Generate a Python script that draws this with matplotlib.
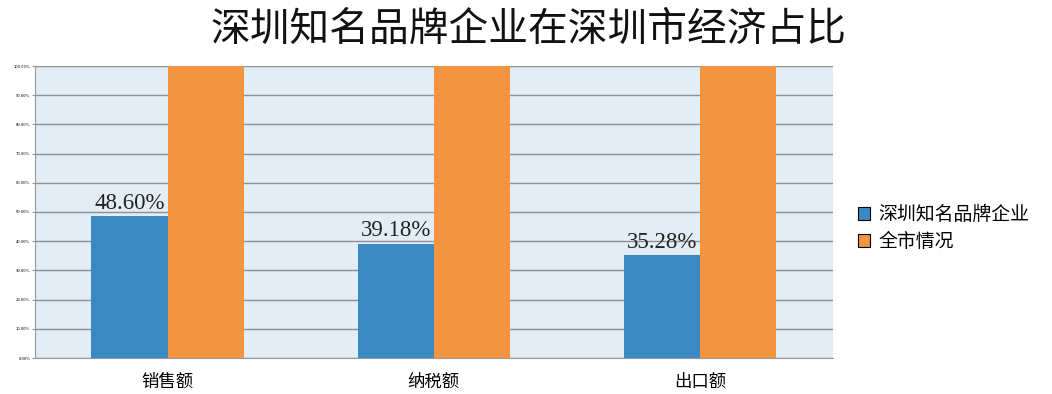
import matplotlib
matplotlib.use("Agg")
import matplotlib.pyplot as plt
import numpy as np
from matplotlib.ticker import FuncFormatter

categories = ["销售额", "纳税额", "出口额"]
brand_values = [48.60, 39.18, 35.28]
city_values = [100.0, 100.0, 100.0]
series_names = ["深圳知名品牌企业", "全市情况"]
title = "深圳知名品牌企业在深圳市经济占比"

plt.rcParams['font.family'] = ['Noto Sans CJK SC', 'DejaVu Sans']

fig = plt.figure(figsize=(10.52, 3.94), dpi=100)
ax = fig.add_axes([34.5/1052, 1 - 358/394, (833-34.5)/1052, (358-66)/394])

x = np.arange(len(categories))
w = 0.286
blue = "#3a89c3"
orange = "#f29441"
ax.bar(x - w/2, brand_values, w, color=blue, label=series_names[0], zorder=3)
ax.bar(x + w/2, city_values, w, color=orange, label=series_names[1], zorder=3)

for xi, v in zip(x, brand_values):
    ax.text(xi - w/2, v + 0.8, f"{v:.2f}%", ha="center", va="bottom",
            fontsize=16.5, family=['Liberation Serif', 'DejaVu Serif'], color="#222222", zorder=4)

ax.set_xlim(-0.5, 2.5)
ax.set_ylim(0, 100)
ax.set_yticks(np.arange(0, 101, 10))
ax.yaxis.set_major_formatter(FuncFormatter(lambda v, p: f"{v:.2f}%"))
ax.tick_params(axis='y', labelsize=3, length=2, color="#999999", pad=1)
ax.tick_params(axis='x', length=0, labelsize=12.5, pad=11)
ax.set_xticks(x)
ax.set_xticklabels(categories)
ax.set_facecolor("#e3edf6")
ax.grid(axis='y', color="#8f8f8f", linewidth=1, zorder=1)
for s in ['top', 'right']:
    ax.spines[s].set_visible(False)
for s in ['left', 'bottom']:
    ax.spines[s].set_color("#9a9a9a")

fig.text(529/1052, 1 - 30/394, title, ha="center", va="center", fontsize=28.6,
         fontweight='light', color="#111111")

handles = [plt.Rectangle((0, 0), 1, 1, facecolor=blue, edgecolor="black", linewidth=0.8),
           plt.Rectangle((0, 0), 1, 1, facecolor=orange, edgecolor="black", linewidth=0.8)]
fig.legend(handles, series_names, loc="center left", bbox_to_anchor=(841/1052, 1 - 228/394),
           frameon=False, fontsize=13.6, handlelength=0.65, handleheight=0.65, handletextpad=0.45,
           labelspacing=0.3)

fig.savefig("out.png", dpi=100)
